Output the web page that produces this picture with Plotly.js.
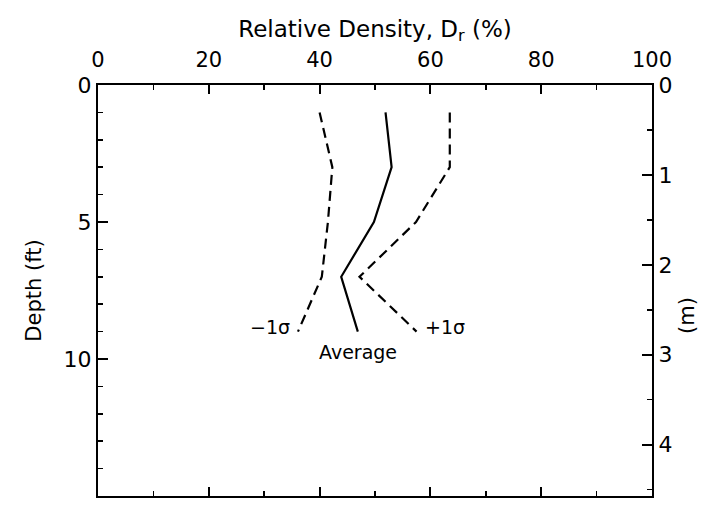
<!DOCTYPE html>
<html>
<head>
<meta charset="utf-8">
<script src="https://cdn.plot.ly/plotly-3.0.1.min.js"></script>
<style>html,body{margin:0;padding:0;background:#fff;}#chart{width:716px;height:507px;}</style>
</head>
<body>
<div id="chart"></div>
<script>
// Depth (ft) of each reading
const depthFt = [1, 3, 5, 7, 9];
// Relative density (%)
const averageDr = [51.9, 53.0, 49.8, 43.9, 46.9];
const minusSigmaDr = [40.0, 42.3, 41.5, 40.4, 36.1];
const plusSigmaDr = [63.5, 63.5, 57.4, 47.2, 57.5];

const seriesLabels = ['Average', '\u22121\u03c3', '+1\u03c3'];
const labelX = [46.9, 31.0, 62.7];
const labelDepth = [9.75, 8.85, 8.85];

const xTicks = [0, 20, 40, 60, 80, 100];
const ftTicks = [0, 5, 10, 15];
const mTicks = [0, 1, 2, 3, 4];
const FT_PER_M = 3.281;

const FONT = 'DejaVu Sans, Liberation Sans, sans-serif';
const black = '#000';

const traces = [
  {x: averageDr, y: depthFt, mode: 'lines', line: {color: black, width: 2.2}, showlegend: false, hoverinfo: 'skip'},
  {x: minusSigmaDr, y: depthFt, mode: 'lines', line: {color: black, width: 2.2, dash: '10px,6px'}, showlegend: false, hoverinfo: 'skip'},
  {x: plusSigmaDr, y: depthFt, mode: 'lines', line: {color: black, width: 2.2, dash: '10px,6px'}, showlegend: false, hoverinfo: 'skip'},
  // invisible trace to activate the metre axis
  {x: [0], y: [0], yaxis: 'y2', mode: 'markers', marker: {opacity: 0}, showlegend: false, hoverinfo: 'skip'}
];

const annotations = seriesLabels.map((t, i) => ({
  x: labelX[i], y: labelDepth[i], xref: 'x', yref: 'y', text: t, showarrow: false,
  font: {family: FONT, size: 19, color: black}
}));
annotations.push({
  xref: 'paper', yref: 'paper', x: 1.088, y: 0.44, text: '(m)', textangle: -90,
  showarrow: false, font: {family: FONT, size: 21, color: black}
});

const layout = {
  width: 716, height: 507,
  margin: {l: 98, r: 64, t: 85, b: 11},
  paper_bgcolor: '#fff', plot_bgcolor: '#fff',
  font: {family: FONT, color: black, size: 20},
  showlegend: false,
  xaxis: {
    side: 'top', range: [0, 100], tickvals: xTicks, ticktext: xTicks.map(String),
    ticks: 'inside', ticklen: 9, tickwidth: 2, tickcolor: black, ticklabelstandoff: 8,
    minor: {dtick: 10, ticks: 'inside', ticklen: 5, tickwidth: 1.5, tickcolor: black},
    showline: true, linewidth: 2, linecolor: black, mirror: 'ticks',
    showgrid: false, zeroline: false,
    tickfont: {family: FONT, size: 21, color: black},
    title: {text: 'Relative Density, D<sub>r</sub> (%)', font: {family: FONT, size: 23, color: black}, standoff: 4}
  },
  yaxis: {
    range: [15, 0], tickvals: ftTicks, ticktext: ftTicks.map(String),
    ticks: 'inside', ticklen: 10, tickwidth: 2, tickcolor: black,
    minor: {dtick: 1, ticks: 'inside', ticklen: 5, tickwidth: 1.5, tickcolor: black},
    showline: true, linewidth: 2, linecolor: black,
    showgrid: false, zeroline: false,
    tickfont: {family: FONT, size: 22, color: black},
    title: {text: 'Depth (ft)', font: {family: FONT, size: 21, color: black}, standoff: 16}
  },
  yaxis2: {
    overlaying: 'y', side: 'right', range: [15 / FT_PER_M, 0],
    tickvals: mTicks, ticktext: mTicks.map(String),
    ticks: 'inside', ticklen: 10, tickwidth: 2, tickcolor: black,
    minor: {dtick: 0.5, ticks: 'inside', ticklen: 5, tickwidth: 1.5, tickcolor: black},
    showline: true, linewidth: 2, linecolor: black,
    showgrid: false, zeroline: false,
    tickfont: {family: FONT, size: 22, color: black}
  },
  annotations: annotations
};

Plotly.newPlot('chart', traces, layout, {displayModeBar: false, staticPlot: true});
</script>
</body>
</html>
